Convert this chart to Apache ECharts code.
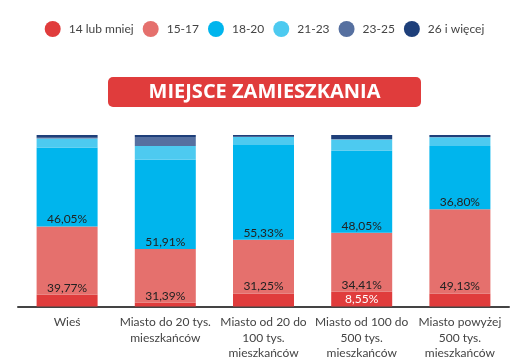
<!DOCTYPE html>
<html><head><meta charset="utf-8">
<script src="https://cdn.jsdelivr.net/npm/echarts@6/dist/echarts.min.js"></script>
<style>html,body{margin:0;padding:0;background:#fff}#c{width:529px;height:361px}</style>
</head><body><div id="c"></div>
<script>
const categories = ['Wieś', 'Miasto do 20 tys.\nmieszkańców', 'Miasto od 20 do\n100 tys.\nmieszkańców', 'Miasto od 100 do\n500 tys.\nmieszkańców', 'Miasto powyżej\n500 tys.\nmieszkańców'];
const seriesNames = ['14 lub mniej', '15-17', '18-20', '21-23', '23-25', '26 i więcej'];
const v14 = [6.9, 2.2, 7.6, 8.55, 7.6];
const v15 = [39.77, 31.39, 31.25, 34.41, 49.13];
const v18 = [46.05, 51.91, 55.33, 48.05, 36.80];
const v21 = [5.2, 8.1, 4.7, 6.4, 5.2];
const v23 = [0.5, 5.2, 0.1, 0.3, 0.1];
const v26 = [1.6, 1.2, 1.2, 2.3, 1.2];
const labelled14 = [false, false, false, true, false];
const colors = ['#e03c3c', '#e5706d', '#00b5ed', '#4dcaf0', '#5670a0', '#1e3f7a'];
const title = 'MIEJSCE ZAMIESZKANIA';

const FONT = 'Lato';
const fmt = v => v.toFixed(2).replace('.', ',') + '%';
const allVals = [v14, v15, v18, v21, v23, v26];
const showLabel = [
  i => labelled14[i], () => true, () => true, () => false, () => false, () => false
];
const series = allVals.map((vals, s) => ({
  name: seriesNames[s],
  type: 'bar',
  stack: 'all',
  barWidth: 61,
  itemStyle: { color: colors[s] },
  data: vals.map((v, i) => ({
    value: v,
    label: {
      show: showLabel[s](i),
      position: 'insideBottom',
      distance: 1,
      formatter: p => fmt(p.value),
      color: s === 0 ? '#fff' : '#222',
      fontSize: 12,
      fontFamily: FONT
    }
  }))
}));

const chart = echarts.init(document.getElementById('c'), null, { renderer: 'canvas' });
chart.setOption({
  animation: false,
  color: colors,
  legend: {
    top: 16,
    left: 'center',
    icon: 'circle',
    itemWidth: 16,
    itemHeight: 16,
    itemGap: 9,
    textStyle: { color: '#444', fontSize: 12, fontFamily: FONT, padding: [0, 0, 0, 3] },
    data: seriesNames
  },
  graphic: [{
    type: 'group',
    left: 'center',
    top: 77,
    children: [
      { type: 'rect', shape: { x: 0, y: 0, width: 313, height: 30, r: 5 }, style: { fill: '#e03c3c' } },
      { type: 'text', x: 156.5, y: 15.5, style: { text: title, fill: '#fff', font: 'bold 20px "Open Sans", sans-serif', textAlign: 'center', textVerticalAlign: 'middle' } }
    ]
  }],
  grid: { left: 18, right: 20, top: 135, bottom: 54 },
  xAxis: {
    type: 'category',
    data: categories,
    axisLine: { lineStyle: { color: '#444', width: 2 } },
    axisTick: { show: false },
    axisLabel: { color: '#444', fontSize: 12, fontFamily: FONT, lineHeight: 15.5, margin: 8, interval: 0 }
  },
  yAxis: { type: 'value', min: 0, max: 100, show: false },
  series
});
</script></body></html>
